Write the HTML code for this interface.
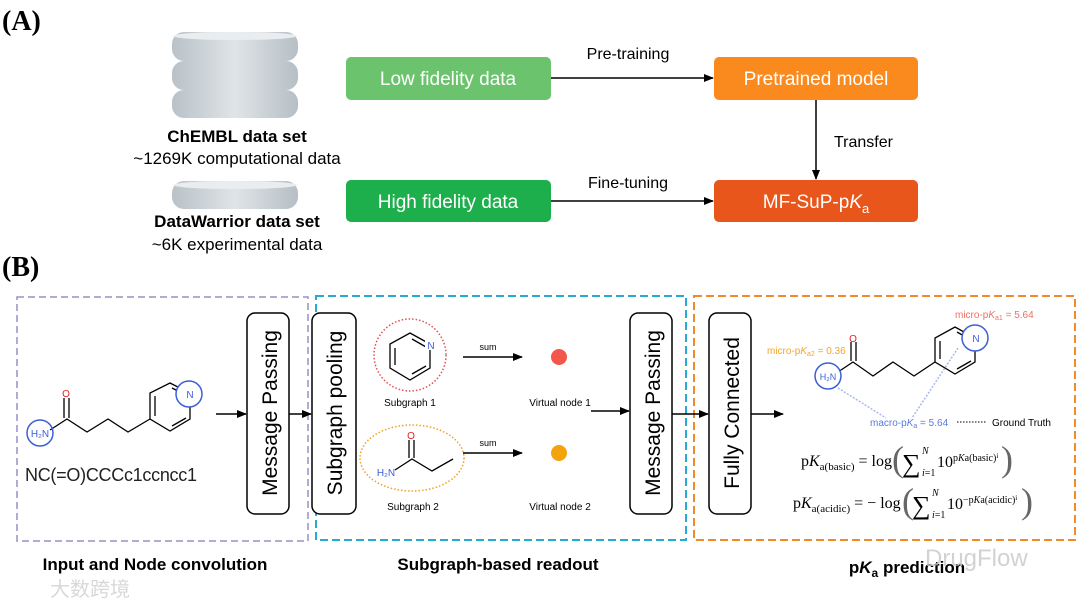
<!DOCTYPE html>
<html><head><meta charset="utf-8"><style>
html,body{margin:0;padding:0;background:#fff;}
svg{display:block;font-family:"Liberation Sans",Arial,sans-serif;}
</style></head><body>
<svg width="1080" height="608" viewBox="0 0 1080 608" xmlns="http://www.w3.org/2000/svg">
<defs>
<marker id="ar" markerWidth="10" markerHeight="8" refX="9" refY="4" orient="auto" markerUnits="userSpaceOnUse"><path d="M0,0 L10,4 L0,8 Z" fill="#000"/></marker>
<linearGradient id="cyl" x1="0" x2="1" y1="0" y2="0"><stop offset="0" stop-color="#b9c2c8"/><stop offset="0.5" stop-color="#dfe4e7"/><stop offset="1" stop-color="#b6bfc5"/></linearGradient>
</defs>
<text x="2" y="30" font-family="Liberation Serif,serif" font-weight="bold" font-size="28">(A)</text>
<g>
<rect x="172" y="90" width="126" height="28" rx="12" fill="url(#cyl)"/>
<rect x="172" y="61" width="126" height="29" rx="12" fill="url(#cyl)"/>
<rect x="172" y="32" width="126" height="29" rx="12" fill="url(#cyl)"/>
<ellipse cx="235" cy="36" rx="62" ry="4" fill="#e9edef"/>
<rect x="172" y="181" width="126" height="28" rx="12" fill="url(#cyl)"/>
<ellipse cx="235" cy="185" rx="62" ry="4" fill="#e9edef"/>
</g>
<text x="237" y="142" text-anchor="middle" font-weight="bold" font-size="17">ChEMBL data set</text>
<text x="237" y="164" text-anchor="middle" font-size="17">~1269K computational data</text>
<text x="237" y="227" text-anchor="middle" font-weight="bold" font-size="17">DataWarrior data set</text>
<text x="237" y="250" text-anchor="middle" font-size="17">~6K experimental data</text>
<rect x="346" y="57" width="205" height="43" rx="5" fill="#6cc36e"/>
<text x="448" y="85" text-anchor="middle" fill="#fff" font-size="19">Low fidelity data</text>
<rect x="714" y="57" width="204" height="43" rx="5" fill="#fa8a1e"/>
<text x="816" y="85" text-anchor="middle" fill="#fff" font-size="19">Pretrained model</text>
<rect x="346" y="180" width="205" height="42" rx="5" fill="#1daf4c"/>
<text x="448" y="208" text-anchor="middle" fill="#fff" font-size="19">High fidelity data</text>
<rect x="714" y="180" width="204" height="42" rx="5" fill="#e8561c"/>
<text x="816" y="208" text-anchor="middle" fill="#fff" font-size="19">MF-SuP-p<tspan font-style="italic">K</tspan><tspan font-size="13" dy="5">a</tspan></text>
<line x1="551" y1="78" x2="713" y2="78" stroke="#000" stroke-width="1.5" marker-end="url(#ar)"/>
<text x="628" y="59" text-anchor="middle" font-size="16">Pre-training</text>
<line x1="551" y1="201" x2="713" y2="201" stroke="#000" stroke-width="1.5" marker-end="url(#ar)"/>
<text x="628" y="188" text-anchor="middle" font-size="16">Fine-tuning</text>
<line x1="816" y1="100" x2="816" y2="179" stroke="#000" stroke-width="1.5" marker-end="url(#ar)"/>
<text x="834" y="147" font-size="16">Transfer</text>

<text x="2" y="276" font-family="Liberation Serif,serif" font-weight="bold" font-size="28">(B)</text>
<rect x="17" y="297" width="291" height="244" fill="none" stroke="#9b8fc7" stroke-width="1.5" stroke-dasharray="7,4"/>
<rect x="316" y="296" width="370" height="244" fill="none" stroke="#28a9d6" stroke-width="2" stroke-dasharray="8,4"/>
<rect x="694" y="296" width="381" height="244" fill="none" stroke="#f08a2c" stroke-width="2" stroke-dasharray="8,4"/>

<g stroke="#000" stroke-width="1.3" fill="none">
<polyline points="50,430 67,419 87,432 108,419 128,432 150,419"/>
<line x1="64" y1="418" x2="64" y2="398"/><line x1="69" y1="418" x2="69" y2="398"/>
<polygon points="150,419 150,393 170,383 190,393 190,419 170,431"/>
<line x1="155" y1="396" x2="155" y2="416"/><line x1="172" y1="388" x2="186" y2="395"/><line x1="172" y1="426" x2="186" y2="418"/>
</g>
<text x="66" y="397" fill="#e02020" font-size="10" text-anchor="middle">O</text>
<circle cx="40" cy="433" r="13" fill="none" stroke="#3a5fd8" stroke-width="1.5"/>
<text x="40" y="437" fill="#3a5fd8" font-size="10" text-anchor="middle">H₂N</text>
<circle cx="189" cy="394" r="13" fill="#fff" stroke="#3a5fd8" stroke-width="1.5"/>
<text x="190" y="398" fill="#3a5fd8" font-size="10" text-anchor="middle">N</text>
<text x="25" y="481" font-size="18" fill="#222" textLength="172">NC(=O)CCCc1ccncc1</text>
<line x1="216" y1="414" x2="246" y2="414" stroke="#000" stroke-width="1.5" marker-end="url(#ar)"/>

<rect x="247" y="313" width="42" height="201" rx="8" fill="#fff" stroke="#000" stroke-width="1.5"/>
<text transform="translate(277,413) rotate(-90)" text-anchor="middle" font-size="21">Message Passing</text>
<line x1="289" y1="414" x2="311" y2="414" stroke="#000" stroke-width="1.5" marker-end="url(#ar)"/>
<rect x="312" y="313" width="44" height="201" rx="8" fill="#fff" stroke="#000" stroke-width="1.5"/>
<text transform="translate(342,413) rotate(-90)" text-anchor="middle" font-size="21">Subgraph pooling</text>

<circle cx="410" cy="355" r="36" fill="none" stroke="#e05050" stroke-width="1.5" stroke-dasharray="1.5,2"/>
<g stroke="#000" stroke-width="1.3" fill="none">
<polygon points="410,333 430,344 430,368 410,380 390,368 390,344"/>
<line x1="395" y1="348" x2="395" y2="365"/><line x1="412" y1="339" x2="426" y2="347"/><line x1="412" y1="374" x2="426" y2="366"/>
</g>
<rect x="425" y="340" width="10" height="10" fill="#fff"/>
<text x="431" y="349" fill="#3a5fd8" font-size="10" text-anchor="middle">N</text>
<text x="410" y="406" text-anchor="middle" font-size="10">Subgraph 1</text>
<ellipse cx="412" cy="458" rx="52" ry="33" fill="none" stroke="#f0a020" stroke-width="1.5" stroke-dasharray="1.5,2"/>
<g stroke="#000" stroke-width="1.3" fill="none">
<polyline points="395,470 412,459 432,471 453,459"/>
<line x1="409" y1="458" x2="409" y2="440"/><line x1="414" y1="458" x2="414" y2="440"/>
</g>
<text x="411" y="439" fill="#e02020" font-size="10" text-anchor="middle">O</text>
<text x="386" y="476" fill="#3a5fd8" font-size="10" text-anchor="middle">H₂N</text>
<text x="413" y="510" text-anchor="middle" font-size="10">Subgraph 2</text>
<line x1="463" y1="357" x2="522" y2="357" stroke="#000" stroke-width="1.5" marker-end="url(#ar)"/>
<text x="488" y="350" text-anchor="middle" font-size="9">sum</text>
<line x1="463" y1="453" x2="522" y2="453" stroke="#000" stroke-width="1.5" marker-end="url(#ar)"/>
<text x="488" y="446" text-anchor="middle" font-size="9">sum</text>
<circle cx="559" cy="357" r="8" fill="#f4574a"/>
<circle cx="559" cy="453" r="8" fill="#f5a30d"/>
<text x="560" y="406" text-anchor="middle" font-size="10">Virtual node 1</text>
<text x="560" y="510" text-anchor="middle" font-size="10">Virtual node 2</text>
<line x1="591" y1="411" x2="629" y2="411" stroke="#000" stroke-width="1.5" marker-end="url(#ar)"/>

<rect x="630" y="313" width="42" height="201" rx="8" fill="#fff" stroke="#000" stroke-width="1.5"/>
<text transform="translate(660,413) rotate(-90)" text-anchor="middle" font-size="21">Message Passing</text>
<line x1="672" y1="414" x2="708" y2="414" stroke="#000" stroke-width="1.5" marker-end="url(#ar)"/>
<rect x="709" y="313" width="42" height="201" rx="8" fill="#fff" stroke="#000" stroke-width="1.5"/>
<text transform="translate(739,413) rotate(-90)" text-anchor="middle" font-size="21">Fully Connected</text>
<line x1="751" y1="414" x2="783" y2="414" stroke="#000" stroke-width="1.5" marker-end="url(#ar)"/>

<g stroke="#000" stroke-width="1.3" fill="none">
<polyline points="838,372 853,362 873,376 893,362 914,376 935,362"/>
<line x1="851" y1="361" x2="851" y2="342"/><line x1="856" y1="361" x2="856" y2="342"/>
<polygon points="935,362 935,338 955,327 975,338 975,362 955,374"/>
<line x1="940" y1="341" x2="940" y2="359"/><line x1="957" y1="332" x2="971" y2="340"/><line x1="957" y1="369" x2="971" y2="361"/>
</g>
<text x="853" y="342" fill="#e02020" font-size="10" text-anchor="middle">O</text>
<circle cx="828" cy="376" r="13" fill="#fff" stroke="#3a5fd8" stroke-width="1.5"/>
<text x="828" y="380" fill="#3a5fd8" font-size="9" text-anchor="middle">H₂N</text>
<circle cx="975" cy="338" r="13" fill="#fff" stroke="#3a5fd8" stroke-width="1.5"/>
<text x="976" y="342" fill="#3a5fd8" font-size="10" text-anchor="middle">N</text>
<path d="M838,388 L886,418" stroke="#a8b8f0" stroke-width="1.5" stroke-dasharray="2,1.5"/>
<path d="M958,348 L912,418" stroke="#a8b8f0" stroke-width="1.5" stroke-dasharray="2,1.5"/>
<text x="955" y="318" fill="#f07060" font-size="10">micro-p<tspan font-style="italic">K</tspan><tspan font-size="7" dy="2">a1</tspan><tspan dy="-2"> = 5.64</tspan></text>
<text x="767" y="354" fill="#f5a623" font-size="10">micro-p<tspan font-style="italic">K</tspan><tspan font-size="7" dy="2">a2</tspan><tspan dy="-2"> = 0.36</tspan></text>
<text x="870" y="426" fill="#5a7ae0" font-size="10">macro-p<tspan font-style="italic">K</tspan><tspan font-size="7" dy="2">a</tspan><tspan dy="-2"> = 5.64</tspan></text>
<line x1="957" y1="422" x2="987" y2="422" stroke="#333" stroke-width="1.3" stroke-dasharray="1.5,1.5"/>
<text x="992" y="426" font-size="10">Ground Truth</text>
<g font-family="Liberation Serif,serif" font-size="16">
<text x="801" y="466">p<tspan font-style="italic">K</tspan><tspan font-size="11" dy="4">a(basic)</tspan><tspan dy="-4"> = log</tspan></text>
<text x="892" y="471" font-size="36" fill="#666">(</text>
<text x="902" y="472" font-size="26">∑</text><text x="922" y="454" font-size="10" font-style="italic">N</text><text x="922" y="476" font-size="10"><tspan font-style="italic">i</tspan>=1</text>
<text x="937" y="467">10<tspan font-size="10" dy="-6">p<tspan font-style="italic">K</tspan>a(basic)</tspan><tspan font-size="7" dy="-3">i</tspan></text>
<text x="1001" y="471" font-size="36" fill="#666">)</text>
<text x="793" y="508">p<tspan font-style="italic">K</tspan><tspan font-size="11" dy="4">a(acidic)</tspan><tspan dy="-4"> = − log</tspan></text>
<text x="902" y="513" font-size="36" fill="#666">(</text>
<text x="912" y="514" font-size="26">∑</text><text x="932" y="496" font-size="10" font-style="italic">N</text><text x="932" y="518" font-size="10"><tspan font-style="italic">i</tspan>=1</text>
<text x="947" y="509">10<tspan font-size="10" dy="-6">−p<tspan font-style="italic">K</tspan>a(acidic)</tspan><tspan font-size="7" dy="-3">i</tspan></text>
<text x="1021" y="513" font-size="36" fill="#666">)</text>
</g>

<text x="155" y="570" text-anchor="middle" font-weight="bold" font-size="17">Input and Node convolution</text>
<text x="498" y="570" text-anchor="middle" font-weight="bold" font-size="17">Subgraph-based readout</text>
<text x="907" y="573" text-anchor="middle" font-weight="bold" font-size="17">p<tspan font-style="italic">K</tspan><tspan font-size="12" dy="4">a</tspan><tspan dy="-4"> prediction</tspan></text>
<text x="925" y="566" font-size="24" fill="#c8c8c8" opacity="0.8">DrugFlow</text>
<text x="50" y="596" font-size="20" fill="#d8d8d8" font-family="Noto Sans CJK SC,sans-serif">大数跨境</text>
</svg>
</body></html>
